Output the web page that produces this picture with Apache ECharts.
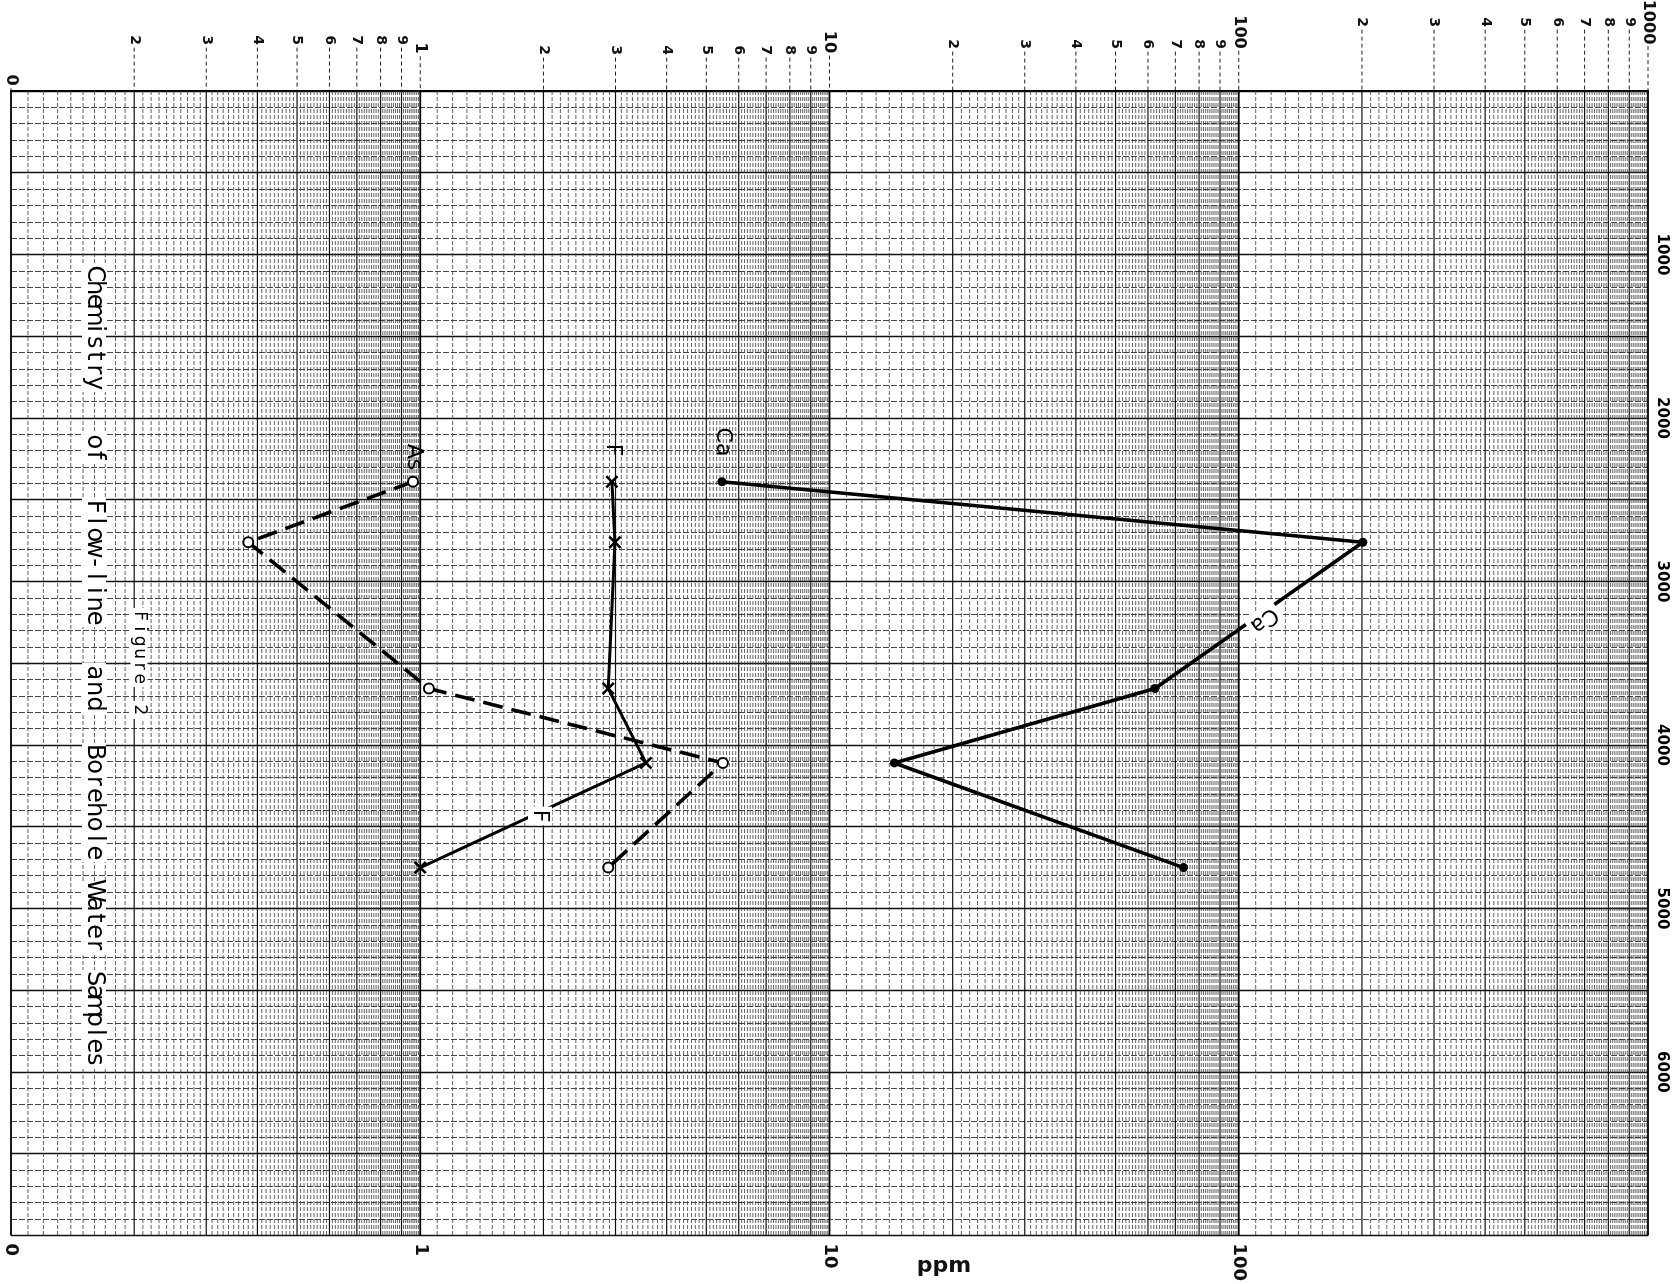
<!DOCTYPE html>
<html>
<head>
<meta charset="utf-8">
<title>Chemistry of Flow-line and Borehole Water Samples</title>
<script src="https://cdn.jsdelivr.net/npm/echarts@6/dist/echarts.min.js"></script>
<style>
  html, body { margin: 0; padding: 0; background: #fff; }
  #chart { width: 1672px; height: 1284px; }
</style>
</head>
<body>
<div id="chart"></div>
<script>
// vertical scale value of each sample (same five samples for every element)
const depth = [2390, 2760, 3655, 4110, 4750];
// ppm
const ca = [5.46, 201, 62.4, 14.4, 73.3];
const fl = [2.94, 2.99, 2.88, 3.56, 1.0];
const as = [0.96, 0.38, 1.05, 5.49, 2.88];

// printed scale of the log paper (top edge)
const topTickValues = [0.1, 0.2, 0.3, 0.4, 0.5, 0.6, 0.7, 0.8, 0.9,
  1, 2, 3, 4, 5, 6, 7, 8, 9,
  10, 20, 30, 40, 50, 60, 70, 80, 90,
  100, 200, 300, 400, 500, 600, 700, 800, 900, 1000];
const topTickText = ['0', '2', '3', '4', '5', '6', '7', '8', '9',
  '1', '2', '3', '4', '5', '6', '7', '8', '9',
  '10', '2', '3', '4', '5', '6', '7', '8', '9',
  '100', '2', '3', '4', '5', '6', '7', '8', '9', '1000'];
const bottomLabels = { '-1': '0', '0': '1', '1': '10', '2': '100' };
const depthLabels = [1000, 2000, 3000, 4000, 5000, 6000];

const FONT = '"DejaVu Sans", "Liberation Sans", sans-serif';
const ROT = -Math.PI / 2;

// paper rulings: every 0.1 of each cycle, heavier on whole numbers
const paperX = [];
[0.1, 1, 10, 100].forEach(d => {
    for (let k = 10; k < 100; k++) {
        paperX.push([d * k / 10, 0, k % 10 === 0 ? (k === 10 ? 2 : 1) : 0]);
    }
});
paperX.push([1000, 0, 2]);

const renderPaper = (params, api) => {
    const v = api.value(0);
    const kind = api.value(2);
    const a = api.coord([v, 0]);
    const b = api.coord([v, 7000]);
    let style;
    if (kind === 2) {
        style = { stroke: '#000', lineWidth: 1.8 };
    } else if (kind === 1) {
        style = { stroke: '#111', lineWidth: 1.2 };
    } else {
        style = { stroke: '#3a3a3a', lineWidth: 0.8, lineDash: [4, 2] };
    }
    return { type: 'line', silent: true, shape: { x1: a[0], y1: a[1], x2: b[0], y2: b[1] }, style: style };
}

const minorY = { '-1': 40, '0': 50, '1': 44, '2': 22 };
const decadeY = { '-1': 80, '0': 48, '1': 42, '2': 32, '3': 22 };

const renderTopTicks = (params, api) => {
    const i = api.value(2);
    const v = topTickValues[i];
    const text = topTickText[i];
    const p = api.coord([v, 0]);
    const lg = Math.log10(v);
    const isDecade = Math.abs(lg - Math.round(lg)) < 1e-6;
    const dec = isDecade ? Math.round(lg) : Math.floor(lg + 1e-9);
    const yc = isDecade ? decadeY[dec] : minorY[dec];
    const size = isDecade ? 16 : 14;
    const half = text.length * size * 0.33;
    const children = [{
        type: 'text', x: p[0], y: yc, rotation: ROT,
        style: { text: text, fontSize: size, fontWeight: 'bold', fontFamily: FONT, fill: '#111', align: 'center', verticalAlign: 'middle' }
    }];
    if (yc + half + 3 < p[1]) {
        children.push({
            type: 'line',
            shape: { x1: p[0], y1: yc + half + 3, x2: p[0], y2: p[1] },
            style: { stroke: '#222', lineWidth: 1, lineDash: [4, 3] }
        });
    }
    return { type: 'group', silent: true, children: children };
}

// stencil-style word: white patch, then one letter per even step down the page
const stencilWord = (word, size, x, from, to) => {
    const step = (to - from) / word.length;
    const items = [{
        type: 'rect', z: 19, silent: true,
        shape: { x: x - size * 0.5, y: from - 2, width: size, height: to - from + 4 },
        style: { fill: '#fff' }
    }];
    word.split('').forEach((ch, i) => {
        items.push({
            type: 'text', x: x, y: from + (i + 0.5) * step, rotation: ROT, z: 20,
            style: { text: ch, fontSize: size, fontFamily: FONT, fill: '#000', align: 'center', verticalAlign: 'middle' }
        });
    });
    return items;
}

const label = (text, x, y, rotation, bg) => ({
    type: 'text', x: x, y: y, rotation: rotation, z: 20,
    style: {
        text: text, fontSize: 22, fontFamily: FONT, fill: '#000', align: 'center', verticalAlign: 'middle',
        backgroundColor: bg ? '#fff' : null, padding: bg ? [1, 3] : 0
    }
});

const xMark = 'path://M0,1.4L1.4,0L5,3.6L8.6,0L10,1.4L6.4,5L10,8.6L8.6,10L5,6.4L1.4,10L0,8.6L3.6,5Z';

const chart = echarts.init(document.getElementById('chart'));
const option = {
    backgroundColor: '#fff',
    animation: false,
    grid: { left: 11, right: 24, top: 91, bottom: 42 },
    xAxis: [
        {
            type: 'log', logBase: 10, min: 0.1, max: 1000, position: 'bottom',
            axisLine: { show: true, lineStyle: { color: '#000', width: 2 } },
            axisTick: { show: false },
            splitLine: { show: false },
            axisLabel: {
                rotate: -90, margin: 8, fontSize: 18, fontWeight: 'bold', color: '#111', fontFamily: FONT,
                formatter: v => bottomLabels[Math.round(Math.log10(v))] || ''
            }
        },
        {
            type: 'log', logBase: 10, min: 0.1, max: 1000, position: 'top',
            axisLine: { show: true, lineStyle: { color: '#000', width: 2 } },
            axisTick: { show: false },
            axisLabel: { show: false },
            splitLine: { show: false }
        }
    ],
    yAxis: {
        type: 'value', inverse: true, min: 0, max: 7000, interval: 500, position: 'right',
        axisLine: { show: false },
        axisTick: { show: false },
        splitLine: { show: true, lineStyle: { color: '#111', width: 1.4 } },
        minorTick: { show: false, splitNumber: 5 },
        minorSplitLine: { show: true, lineStyle: { color: '#333', width: 0.9, type: [6, 2] } },
        axisLabel: {
            rotate: -90, margin: 6, fontSize: 15, fontWeight: 'bold', color: '#000', fontFamily: FONT,
            formatter: v => depthLabels.indexOf(v) >= 0 ? String(v) : ''
        }
    },
    graphic: [
        ...stencilWord('Chemistry', 24, 94, 267, 390),
        ...stencilWord('of', 24, 94, 435, 462),
        ...stencilWord('Flow-line', 24, 94, 500, 625),
        ...stencilWord('and', 24, 94, 665, 712),
        ...stencilWord('Borehole', 24, 94, 745, 860),
        ...stencilWord('Water', 24, 94, 884, 952),
        ...stencilWord('Samples', 24, 94, 972, 1066),
        ...stencilWord('Figure', 17, 139, 610, 685),
        ...stencilWord('2', 17, 139, 703, 717),
        {
            type: 'text', x: 944, y: 1266, z: 20,
            style: { text: 'ppm', fontSize: 22, fontWeight: 'bold', fontFamily: FONT, fill: '#111', align: 'center', verticalAlign: 'middle' }
        },
        label('Ca', 723, 442, ROT, false),
        label('F', 613, 450, ROT, false),
        label('As', 414, 457, ROT, false),
        label('Ca', 1264, 620, -2.53, true),
        label('F', 540, 816, ROT, true)
    ],
    series: [
        {
            type: 'custom', name: 'paper', renderItem: renderPaper, data: paperX,
            encode: { x: 0, y: 1 }, silent: true, z: 1
        },
        {
            type: 'custom', name: 'scale', renderItem: renderTopTicks,
            data: topTickValues.map((v, i) => [v, 0, i]),
            encode: { x: 0, y: 1 }, silent: true, clip: false, z: 1
        },
        {
            type: 'line', name: 'Ca', data: ca.map((v, i) => [v, depth[i]]),
            symbol: 'circle', symbolSize: 9,
            itemStyle: { color: '#000' },
            lineStyle: { color: '#000', width: 3.6 }, z: 5
        },
        {
            type: 'line', name: 'F', data: fl.map((v, i) => [v, depth[i]]),
            symbol: xMark, symbolSize: 13,
            itemStyle: { color: '#000' },
            lineStyle: { color: '#000', width: 3 }, z: 5
        },
        {
            type: 'line', name: 'As', data: as.map((v, i) => [v, depth[i]]),
            symbol: 'emptyCircle', symbolSize: 10,
            itemStyle: { color: '#000', borderWidth: 2.5 },
            lineStyle: { color: '#000', width: 3.6, type: [20, 9] }, z: 6
        }
    ]
};
chart.setOption(option);
</script>
</body>
</html>
